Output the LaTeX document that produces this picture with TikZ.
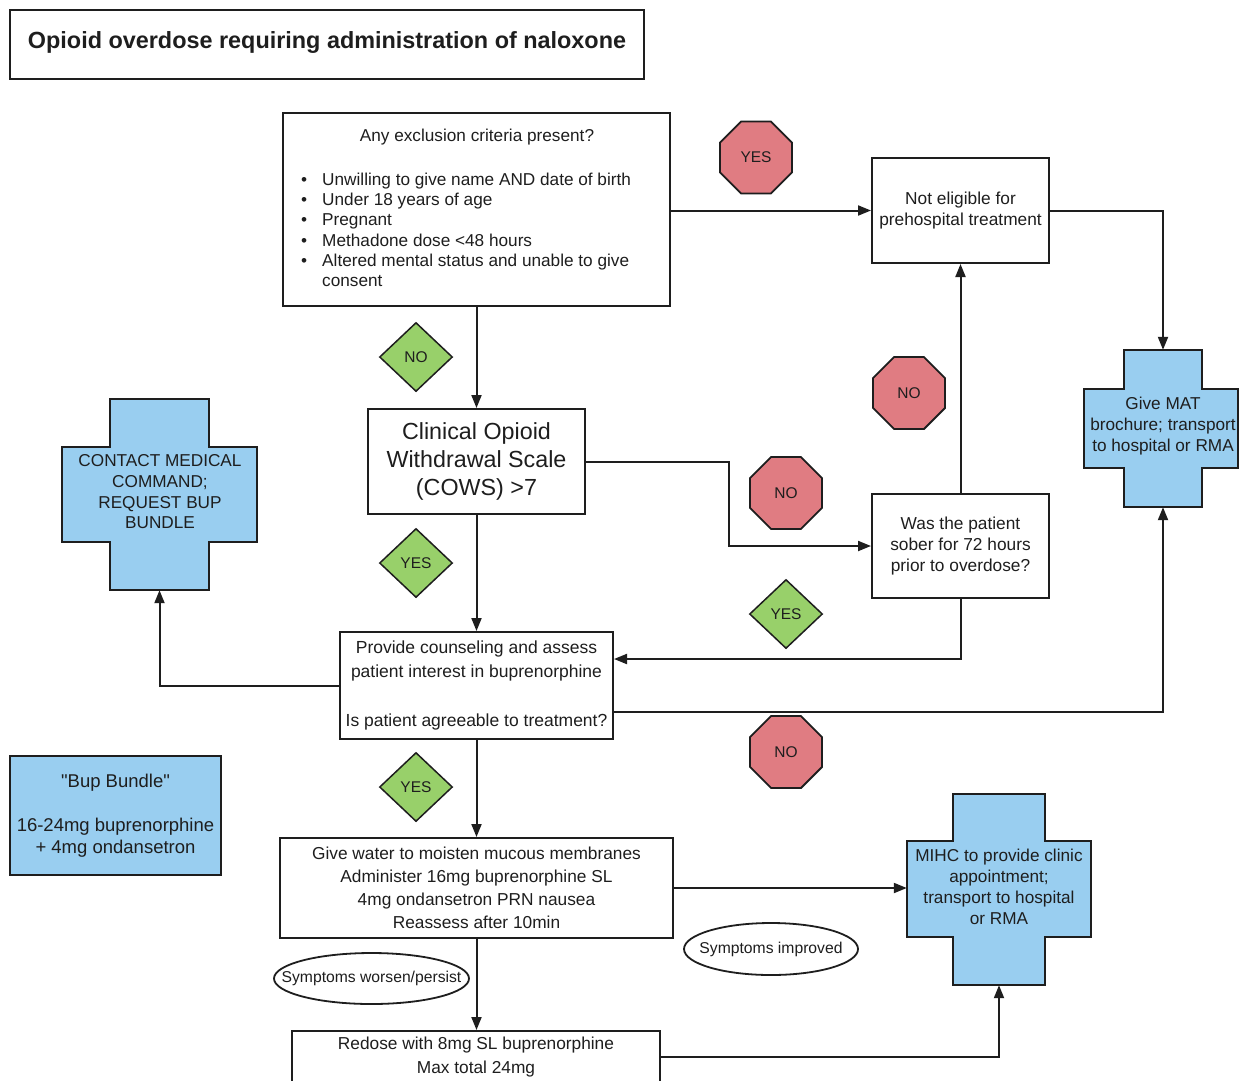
\documentclass[tikz,border=0pt]{standalone}
\usepackage{fontspec}
\setmainfont{Liberation Sans}
\newfontfamily\plainquote{Liberation Sans}[Ligatures=TeXOff]
\usetikzlibrary{arrows.meta,shapes.geometric,calc}
\definecolor{ink}{RGB}{30,30,30}
\definecolor{stopred}{RGB}{224,124,130}
\definecolor{gogreen}{RGB}{152,208,106}
\definecolor{crossblue}{RGB}{153,206,240}
\newcommand\fsz[2]{\fontsize{#1}{#2}\selectfont}
\newcommand\crosspath[2]{%
  \draw[crossfill] (#1.north west) -- (#1.north east) -- (#1.east |- #2.north) -- (#2.north east) -- (#2.south east) -- (#1.east |- #2.south) -- (#1.south east) -- (#1.south west) -- (#1.west |- #2.south) -- (#2.south west) -- (#2.north west) -- (#1.west |- #2.north) -- cycle;}
\begin{document}
\begin{tikzpicture}[x=1pt,y=-1pt,
  box/.style={draw=ink, line width=2pt, fill=white, align=center, inner sep=0pt, text=ink, font=\fsz{17.3}{21}},
  txt/.style={align=center, inner sep=0pt, text=ink, font=\fsz{17.3}{21}},
  arr/.style={draw=ink, line width=2pt, -{Triangle[length=13pt,width=10pt]}},
  octo/.style={regular polygon, regular polygon sides=8, minimum size=78pt, inner sep=0pt, fill=stopred, draw=ink, line width=1.8pt, text=ink, font=\fsz{15.5}{18}},
  dia/.style={diamond, minimum width=73pt, minimum height=69pt, inner sep=0pt, fill=gogreen, draw=ink, line width=1.5pt, text=ink, font=\fsz{15.5}{18}},
  ovaltext/.style={inner sep=0pt, text=ink, font=\fsz{15.7}{18}},
  ovalline/.style={draw=ink, fill=white, line width=1.8pt},
  crosspart/.style={rectangle, inner sep=0pt, draw=none},
  crossfill/.style={fill=crossblue, draw=ink, line width=2pt}]
\useasboundingbox (0,0) rectangle (1239,1080);
\clip (0,0) rectangle (1239,1080);
\fill[white] (0,0) rectangle (1239,1080);

% title
\node[draw=ink, line width=1.6pt, minimum width=634pt, minimum height=69pt, inner sep=0pt] (title) at (327,44.5) {};
\node[inner sep=0pt, text=ink, font=\fsz{23.4}{28}\bfseries] (titletext) at (327,42) {Opioid overdose requiring administration of naloxone};

% exclusion box
\node[box, minimum width=387pt, minimum height=193pt] (excl) at (476.5,209.5) {};
\node[txt, font=\fsz{17.2}{20.3}] (exclq) at (477,137) {Any exclusion criteria present?};
\node[txt, anchor=west, align=left, font=\fsz{17.2}{20.3}] (excll) at (301,232) {\begin{tabular}{@{}l@{\hspace{15pt}}l@{}}
\textbullet & Unwilling to give name AND date of birth\\
\textbullet & Under 18 years of age\\
\textbullet & Pregnant\\
\textbullet & Methadone dose <48 hours\\
\textbullet & Altered mental status and unable to give\\
 & consent
\end{tabular}};

% not eligible
\node[box, minimum width=177pt, minimum height=105pt] (notel) at (960.5,210.5) {Not eligible for\\prehospital treatment};

% COWS
\node[box, minimum width=217pt, minimum height=105pt, font=\fsz{23.3}{28}] (cows) at (476.5,461.5) {Clinical Opioid\\Withdrawal Scale\\(COWS) >7};

% was the patient sober
\node[box, minimum width=177pt, minimum height=104pt] (was) at (960.5,546) {Was the patient\\sober for 72 hours\\prior to overdose?};

% provide counseling
\node[box, minimum width=273pt, minimum height=107pt, font=\fsz{17.5}{24}] (prov) at (476.5,685.5) {Provide counseling and assess\\patient interest in buprenorphine\\[25pt]Is patient agreeable to treatment?};

% give water
\node[box, minimum width=393pt, minimum height=100pt, font=\fsz{17.3}{23}] (give) at (476.5,888) {Give water to moisten mucous membranes\\Administer 16mg buprenorphine SL\\4mg ondansetron PRN nausea\\Reassess after 10min};

% redose
\node[box, minimum width=368pt, minimum height=70pt, anchor=north] (redose) at (476,1030) {};
\node[txt, font=\fsz{17.3}{24}] (redosetext) at (476,1057) {Redose with 8mg SL buprenorphine\\Max total 24mg};

% bup bundle
\node[box, fill=crossblue, minimum width=211pt, minimum height=119pt, font=\fsz{18.5}{22}] (bup) at (115.5,815.5) {{\plainquote "}Bup Bundle{\plainquote "}\\[22pt]16-24mg buprenorphine\\+ 4mg ondansetron};

% crosses
\node[crosspart, minimum width=98pt, minimum height=191pt] (conV) at (159.5,494.5) {};
\node[crosspart, minimum width=195pt, minimum height=95pt] (conH) at (159.5,494.5) {};
\crosspath{conV}{conH}
\node[txt, font=\fsz{17.2}{20.7}] (contxt) at (160,492) {CONTACT MEDICAL\\COMMAND;\\REQUEST BUP\\BUNDLE};

\node[crosspart, minimum width=78pt, minimum height=157pt] (matV) at (1163,428.5) {};
\node[crosspart, minimum width=154pt, minimum height=79pt] (matH) at (1161,428.5) {};
\crosspath{matV}{matH}
\node[txt, font=\fsz{17.2}{21}] (mattxt) at (1163,426) {Give MAT\\brochure; transport\\to hospital or RMA};

\node[crosspart, minimum width=92pt, minimum height=191pt] (mihcV) at (999,889.5) {};
\node[crosspart, minimum width=184pt, minimum height=96pt] (mihcH) at (999,889) {};
\crosspath{mihcV}{mihcH}
\node[txt, font=\fsz{17.2}{21}] (mihctxt) at (999,887) {MIHC to provide clinic\\appointment;\\transport to hospital\\or RMA};

% labels
\node[octo] (yes1) at (756,157.5) {YES};
\node[octo] (no1) at (909,393) {NO};
\node[octo] (no2) at (786,493) {NO};
\node[octo] (no3) at (786,752) {NO};
\node[dia] (dno) at (416,357) {NO};
\node[dia] (dyes1) at (416,563) {YES};
\node[dia] (dyes2) at (786,614) {YES};
\node[dia] (dyes3) at (416,787) {YES};

% connectors
\draw[arr] (notel.west -| excl.east) -- (notel.west);
\draw[arr] (notel.east) -| (matV.north);
\draw[arr] (excl.south) -- (cows.north);
\draw[arr] (cows.east) -- ++(143,0) |- (was.west);
\draw[arr] (was.north) -- (notel.south);
\draw[arr] (was.south) |- ([yshift=-28pt]prov.north east);
\draw[arr] (prov.west) -| (conV.south);
\draw[arr] ([yshift=-81pt]prov.north east) -| (matV.south);
\draw[arr] (cows.south) -- (prov.north);
\draw[arr] (prov.south) -- (give.north);
\draw[arr] (give.east) -- (give.east -| mihcH.west);
\draw[arr] (give.south) -- (give.south |- redose.north);
\draw[arr] ([yshift=-27pt]redose.north east) -| (mihcV.south);

% ovals
\draw[ovalline] (771,949) ellipse [x radius=87, y radius=26];
\node[ovaltext] (improved) at (771,949) {Symptoms improved};
\draw[ovalline] (371.5,978.5) ellipse [x radius=97.5, y radius=25.5];
\node[ovaltext] (worse) at (371.5,978.5) {Symptoms worsen/persist};
\end{tikzpicture}
\end{document}
